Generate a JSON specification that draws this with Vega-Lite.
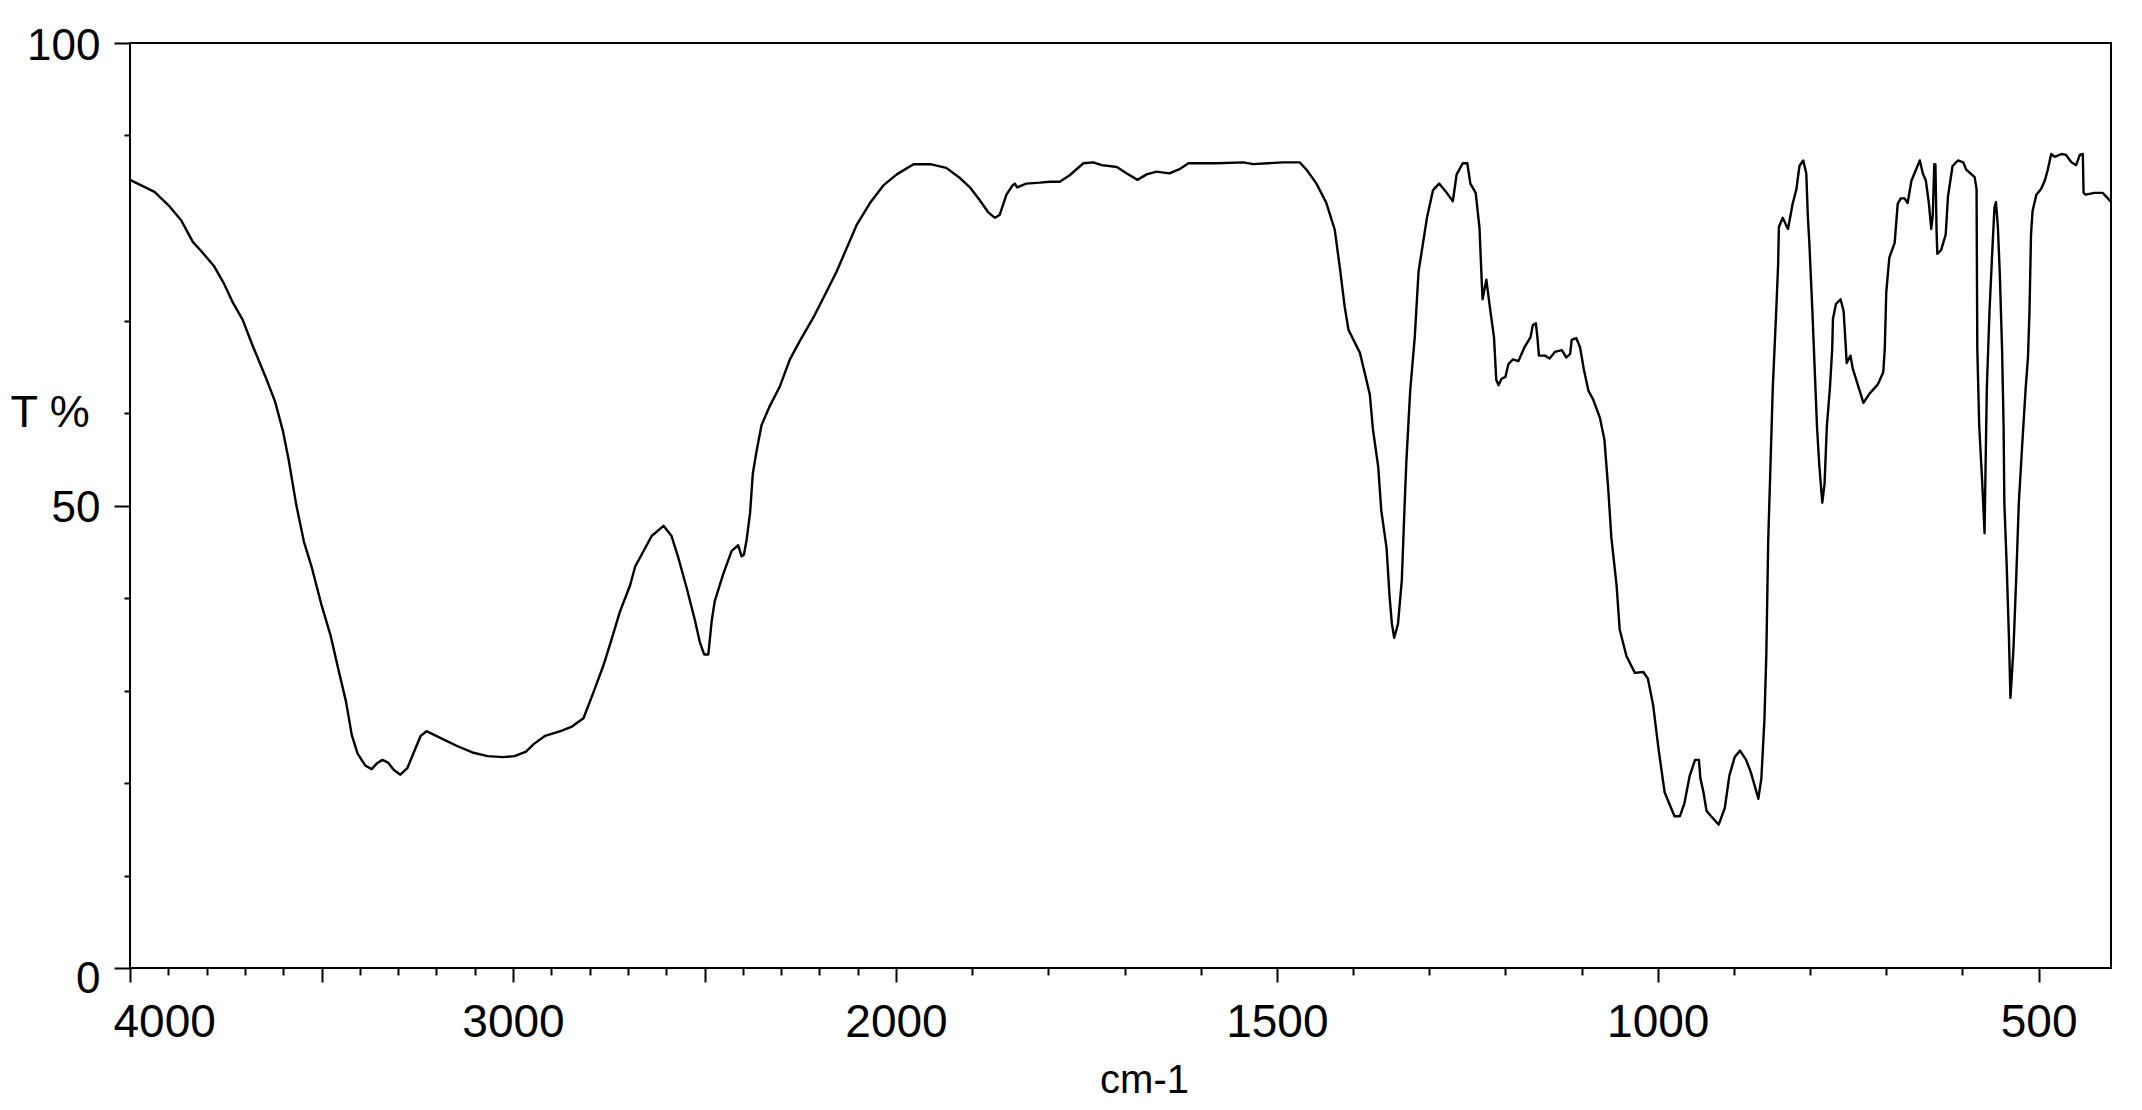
{
  "$schema": "https://vega.github.io/schema/vega-lite/v6.json",
  "width": 1981,
  "height": 925,
  "autosize": {"type": "none"},
  "padding": {"left": 130, "top": 43, "right": 31, "bottom": 142},
  "background": "white",
  "config": {
    "view": {"stroke": "black", "strokeWidth": 2},
    "axis": {"grid": false, "domain": false, "tickColor": "black", "tickWidth": 2, "labelColor": "black", "titleColor": "black", "labelFont": "Liberation Sans", "titleFont": "Liberation Sans", "titleFontWeight": "normal"}
  },
  "data": {"values": [
    {"wn": 4000, "T": 85.2}, {"wn": 3936, "T": 83.9}, {"wn": 3896, "T": 82.3}, {"wn": 3866, "T": 80.8}, {"wn": 3836, "T": 78.5}, {"wn": 3816, "T": 77.6}, {"wn": 3781, "T": 75.9}, {"wn": 3756, "T": 74.1}, {"wn": 3731, "T": 71.9}, {"wn": 3706, "T": 70.1}, {"wn": 3681, "T": 67.4}, {"wn": 3646, "T": 63.9}, {"wn": 3621, "T": 61.2}, {"wn": 3601, "T": 58.1}, {"wn": 3586, "T": 55.0}, {"wn": 3566, "T": 50.1}, {"wn": 3546, "T": 46.1}, {"wn": 3526, "T": 43.4}, {"wn": 3501, "T": 39.4}, {"wn": 3476, "T": 35.9}, {"wn": 3456, "T": 32.3}, {"wn": 3436, "T": 28.8}, {"wn": 3421, "T": 25.2}, {"wn": 3406, "T": 23.2}, {"wn": 3386, "T": 21.9}, {"wn": 3369, "T": 21.5}, {"wn": 3356, "T": 22.1}, {"wn": 3341, "T": 22.5}, {"wn": 3326, "T": 22.2}, {"wn": 3311, "T": 21.4}, {"wn": 3294, "T": 20.9}, {"wn": 3276, "T": 21.6}, {"wn": 3258, "T": 23.4}, {"wn": 3241, "T": 25.1}, {"wn": 3226, "T": 25.6}, {"wn": 3206, "T": 25.2}, {"wn": 3186, "T": 24.8}, {"wn": 3146, "T": 24.0}, {"wn": 3106, "T": 23.3}, {"wn": 3066, "T": 22.9}, {"wn": 3026, "T": 22.8}, {"wn": 2996, "T": 22.9}, {"wn": 2966, "T": 23.4}, {"wn": 2946, "T": 24.2}, {"wn": 2916, "T": 25.1}, {"wn": 2876, "T": 25.6}, {"wn": 2846, "T": 26.1}, {"wn": 2816, "T": 27.0}, {"wn": 2790, "T": 29.8}, {"wn": 2764, "T": 32.7}, {"wn": 2742, "T": 35.6}, {"wn": 2721, "T": 38.5}, {"wn": 2694, "T": 41.4}, {"wn": 2681, "T": 43.4}, {"wn": 2664, "T": 44.7}, {"wn": 2638, "T": 46.7}, {"wn": 2607, "T": 47.8}, {"wn": 2586, "T": 46.7}, {"wn": 2568, "T": 44.3}, {"wn": 2546, "T": 41.0}, {"wn": 2525, "T": 37.6}, {"wn": 2512, "T": 35.2}, {"wn": 2501, "T": 33.9}, {"wn": 2490, "T": 33.9}, {"wn": 2481, "T": 37.6}, {"wn": 2473, "T": 39.7}, {"wn": 2451, "T": 42.6}, {"wn": 2429, "T": 45.1}, {"wn": 2412, "T": 45.7}, {"wn": 2403, "T": 44.5}, {"wn": 2397, "T": 44.7}, {"wn": 2390, "T": 46.3}, {"wn": 2381, "T": 49.2}, {"wn": 2374, "T": 53.4}, {"wn": 2364, "T": 55.9}, {"wn": 2351, "T": 58.7}, {"wn": 2329, "T": 60.8}, {"wn": 2303, "T": 62.9}, {"wn": 2277, "T": 65.8}, {"wn": 2251, "T": 67.8}, {"wn": 2216, "T": 70.3}, {"wn": 2190, "T": 72.4}, {"wn": 2155, "T": 75.3}, {"wn": 2129, "T": 77.8}, {"wn": 2103, "T": 80.3}, {"wn": 2068, "T": 82.7}, {"wn": 2033, "T": 84.6}, {"wn": 1999, "T": 85.8}, {"wn": 1977, "T": 86.9}, {"wn": 1955, "T": 86.9}, {"wn": 1934, "T": 86.5}, {"wn": 1916, "T": 85.4}, {"wn": 1903, "T": 84.4}, {"wn": 1890, "T": 83.0}, {"wn": 1879, "T": 81.7}, {"wn": 1870, "T": 81.1}, {"wn": 1864, "T": 81.4}, {"wn": 1855, "T": 83.6}, {"wn": 1847, "T": 84.6}, {"wn": 1844, "T": 84.8}, {"wn": 1841, "T": 84.4}, {"wn": 1829, "T": 84.8}, {"wn": 1811, "T": 84.9}, {"wn": 1798, "T": 85.0}, {"wn": 1785, "T": 85.0}, {"wn": 1772, "T": 85.7}, {"wn": 1754, "T": 87.0}, {"wn": 1741, "T": 87.1}, {"wn": 1730, "T": 86.8}, {"wn": 1710, "T": 86.6}, {"wn": 1697, "T": 85.9}, {"wn": 1683, "T": 85.2}, {"wn": 1671, "T": 85.8}, {"wn": 1658, "T": 86.1}, {"wn": 1641, "T": 85.9}, {"wn": 1627, "T": 86.4}, {"wn": 1616, "T": 87.0}, {"wn": 1579, "T": 87.0}, {"wn": 1544, "T": 87.1}, {"wn": 1531, "T": 86.9}, {"wn": 1492, "T": 87.1}, {"wn": 1470, "T": 87.1}, {"wn": 1461, "T": 86.3}, {"wn": 1448, "T": 84.8}, {"wn": 1435, "T": 82.7}, {"wn": 1424, "T": 79.8}, {"wn": 1417, "T": 75.5}, {"wn": 1411, "T": 71.5}, {"wn": 1406, "T": 69.0}, {"wn": 1391, "T": 66.5}, {"wn": 1384, "T": 64.1}, {"wn": 1378, "T": 62.0}, {"wn": 1374, "T": 58.3}, {"wn": 1367, "T": 54.2}, {"wn": 1363, "T": 49.5}, {"wn": 1356, "T": 45.4}, {"wn": 1352, "T": 40.1}, {"wn": 1349, "T": 37.2}, {"wn": 1346, "T": 35.7}, {"wn": 1341, "T": 37.2}, {"wn": 1336, "T": 41.9}, {"wn": 1332, "T": 50.7}, {"wn": 1330, "T": 54.8}, {"wn": 1325, "T": 62.4}, {"wn": 1319, "T": 68.2}, {"wn": 1314, "T": 75.3}, {"wn": 1303, "T": 81.1}, {"wn": 1295, "T": 84.1}, {"wn": 1287, "T": 84.8}, {"wn": 1277, "T": 83.8}, {"wn": 1269, "T": 82.9}, {"wn": 1264, "T": 85.8}, {"wn": 1256, "T": 87.0}, {"wn": 1250, "T": 87.0}, {"wn": 1246, "T": 84.8}, {"wn": 1239, "T": 83.8}, {"wn": 1234, "T": 80.0}, {"wn": 1231, "T": 74.1}, {"wn": 1230, "T": 72.3}, {"wn": 1225, "T": 74.4}, {"wn": 1220, "T": 71.2}, {"wn": 1215, "T": 68.2}, {"wn": 1212, "T": 63.6}, {"wn": 1209, "T": 63.0}, {"wn": 1205, "T": 63.7}, {"wn": 1200, "T": 63.9}, {"wn": 1196, "T": 65.3}, {"wn": 1190, "T": 65.8}, {"wn": 1183, "T": 65.6}, {"wn": 1175, "T": 67.1}, {"wn": 1167, "T": 68.2}, {"wn": 1164, "T": 69.5}, {"wn": 1160, "T": 69.7}, {"wn": 1158, "T": 68.2}, {"wn": 1156, "T": 66.2}, {"wn": 1148, "T": 66.2}, {"wn": 1142, "T": 65.9}, {"wn": 1135, "T": 66.6}, {"wn": 1126, "T": 66.8}, {"wn": 1120, "T": 66.0}, {"wn": 1115, "T": 66.4}, {"wn": 1113, "T": 67.9}, {"wn": 1107, "T": 68.1}, {"wn": 1102, "T": 67.1}, {"wn": 1097, "T": 64.7}, {"wn": 1091, "T": 62.4}, {"wn": 1085, "T": 61.5}, {"wn": 1076, "T": 59.5}, {"wn": 1070, "T": 57.1}, {"wn": 1065, "T": 51.8}, {"wn": 1061, "T": 46.6}, {"wn": 1054, "T": 41.3}, {"wn": 1050, "T": 36.6}, {"wn": 1041, "T": 33.7}, {"wn": 1030, "T": 31.9}, {"wn": 1019, "T": 32.0}, {"wn": 1013, "T": 31.3}, {"wn": 1006, "T": 28.4}, {"wn": 999, "T": 23.7}, {"wn": 991, "T": 19.0}, {"wn": 984, "T": 17.6}, {"wn": 978, "T": 16.4}, {"wn": 971, "T": 16.4}, {"wn": 965, "T": 17.8}, {"wn": 958, "T": 20.8}, {"wn": 951, "T": 22.5}, {"wn": 946, "T": 22.5}, {"wn": 944, "T": 20.5}, {"wn": 940, "T": 19.0}, {"wn": 936, "T": 17.0}, {"wn": 930, "T": 16.4}, {"wn": 920, "T": 15.5}, {"wn": 912, "T": 17.3}, {"wn": 906, "T": 20.8}, {"wn": 899, "T": 22.8}, {"wn": 892, "T": 23.5}, {"wn": 884, "T": 22.5}, {"wn": 878, "T": 21.2}, {"wn": 872, "T": 19.5}, {"wn": 868, "T": 18.3}, {"wn": 864, "T": 20.5}, {"wn": 860, "T": 26.8}, {"wn": 857.5, "T": 33.8}, {"wn": 855, "T": 46.2}, {"wn": 852, "T": 54.4}, {"wn": 849, "T": 62.7}, {"wn": 844.5, "T": 71.0}, {"wn": 842, "T": 76.0}, {"wn": 841, "T": 80.1}, {"wn": 836, "T": 81.1}, {"wn": 829, "T": 79.9}, {"wn": 823, "T": 82.6}, {"wn": 818, "T": 84.2}, {"wn": 814, "T": 86.7}, {"wn": 809, "T": 87.3}, {"wn": 805, "T": 85.9}, {"wn": 803, "T": 81.3}, {"wn": 801, "T": 78.4}, {"wn": 797, "T": 71.0}, {"wn": 794, "T": 64.8}, {"wn": 791, "T": 58.6}, {"wn": 788, "T": 54.4}, {"wn": 784, "T": 50.3}, {"wn": 781, "T": 52.4}, {"wn": 778, "T": 58.6}, {"wn": 774, "T": 62.7}, {"wn": 771, "T": 66.9}, {"wn": 770, "T": 70.2}, {"wn": 766, "T": 71.8}, {"wn": 760, "T": 72.3}, {"wn": 756, "T": 71.0}, {"wn": 753, "T": 66.9}, {"wn": 752, "T": 65.4}, {"wn": 747, "T": 66.2}, {"wn": 744, "T": 64.8}, {"wn": 736, "T": 62.7}, {"wn": 730, "T": 61.1}, {"wn": 722, "T": 62.1}, {"wn": 711, "T": 63.1}, {"wn": 704, "T": 64.4}, {"wn": 702, "T": 66.9}, {"wn": 700, "T": 73.1}, {"wn": 696, "T": 76.8}, {"wn": 689, "T": 78.4}, {"wn": 685, "T": 82.6}, {"wn": 681, "T": 83.2}, {"wn": 676, "T": 83.2}, {"wn": 672, "T": 82.7}, {"wn": 667, "T": 85.1}, {"wn": 662, "T": 86.1}, {"wn": 656, "T": 87.3}, {"wn": 652, "T": 85.9}, {"wn": 648, "T": 85.1}, {"wn": 644, "T": 82.6}, {"wn": 641, "T": 79.9}, {"wn": 639, "T": 81.3}, {"wn": 637, "T": 86.9}, {"wn": 635.5, "T": 86.9}, {"wn": 634, "T": 79.7}, {"wn": 633, "T": 77.2}, {"wn": 628, "T": 77.6}, {"wn": 622, "T": 79.3}, {"wn": 619, "T": 83.4}, {"wn": 613, "T": 86.7}, {"wn": 606, "T": 87.3}, {"wn": 599, "T": 87.1}, {"wn": 595, "T": 86.3}, {"wn": 584, "T": 85.5}, {"wn": 581.5, "T": 84.2}, {"wn": 580.5, "T": 66.9}, {"wn": 578, "T": 58.6}, {"wn": 574, "T": 52.4}, {"wn": 571, "T": 47.0}, {"wn": 570, "T": 52.4}, {"wn": 568, "T": 62.7}, {"wn": 564.5, "T": 71.0}, {"wn": 561, "T": 77.2}, {"wn": 558, "T": 82.2}, {"wn": 556, "T": 82.8}, {"wn": 553.5, "T": 80.1}, {"wn": 551, "T": 75.1}, {"wn": 548, "T": 66.9}, {"wn": 546, "T": 58.6}, {"wn": 545, "T": 50.3}, {"wn": 542, "T": 43.7}, {"wn": 539, "T": 35.8}, {"wn": 537, "T": 29.2}, {"wn": 533, "T": 34.6}, {"wn": 529.5, "T": 42.0}, {"wn": 526, "T": 50.3}, {"wn": 521.6, "T": 56.5}, {"wn": 517, "T": 62.7}, {"wn": 514, "T": 66.0}, {"wn": 512, "T": 71.0}, {"wn": 510, "T": 79.3}, {"wn": 508, "T": 81.8}, {"wn": 503, "T": 83.6}, {"wn": 497, "T": 84.2}, {"wn": 492, "T": 85.1}, {"wn": 488, "T": 86.3}, {"wn": 483.5, "T": 88.0}, {"wn": 479, "T": 87.7}, {"wn": 470, "T": 88.0}, {"wn": 464, "T": 87.9}, {"wn": 457, "T": 87.1}, {"wn": 450.7, "T": 86.8}, {"wn": 446, "T": 87.9}, {"wn": 442, "T": 88.0}, {"wn": 441, "T": 83.8}, {"wn": 438, "T": 83.6}, {"wn": 427, "T": 83.8}, {"wn": 416, "T": 83.8}, {"wn": 409, "T": 83.2}, {"wn": 405, "T": 82.8}
  ]},
  "layer": [
    {
      "mark": {"type": "line", "color": "black", "strokeWidth": 2.4, "strokeJoin": "round"},
      "encoding": {
        "x": {
          "field": "wn", "type": "quantitative",
          "scale": {"domain": [4000, 2000, 405], "range": [0, 766, 1981], "zero": false, "nice": false},
          "axis": {
            "orient": "bottom",
            "values": [4000, 3500, 3000, 2500, 2000, 1500, 1000, 500],
            "format": "d",
            "labelExpr": "datum.value == 3500 || datum.value == 2500 ? '' : datum.label",
            "tickSize": 14,
            "labelFontSize": 46,
            "labelPadding": 18,
            "labelFlush": true,
            "labelFlushOffset": 17,
            "labelOverlap": false,
            "title": "cm-1",
            "titleFontSize": 40,
            "titleX": 1014,
            "titleY": 124,
            "titleAlign": "center",
            "titleBaseline": "alphabetic"
          }
        },
        "y": {
          "field": "T", "type": "quantitative",
          "scale": {"domain": [0, 100], "nice": false},
          "axis": {
            "orient": "left",
            "values": [0, 50, 100],
            "tickSize": 16,
            "labelFontSize": 44,
            "labelPadding": 14,
            "labelOffset": {"condition": {"test": "datum.value == 0", "value": 11}, "value": 3},
            "title": "T %",
            "titleFontSize": 45,
            "titleAngle": 0,
            "titleAlign": "left",
            "titleBaseline": "alphabetic",
            "titleX": -120,
            "titleY": 383
          }
        }
      }
    },
    {
      "mark": {"type": "line", "opacity": 0},
      "encoding": {
        "x": {
          "field": "wn", "type": "quantitative",
          "axis": {
            "orient": "bottom",
            "values": [3900, 3800, 3700, 3600, 3400, 3300, 3200, 3100, 2900, 2800, 2700, 2600, 2400, 2300, 2200, 2100, 1900, 1800, 1700, 1600, 1400, 1300, 1200, 1100, 900, 800, 700, 600],
            "tickSize": 7,
            "labels": false,
            "title": null
          }
        },
        "y": {
          "field": "T", "type": "quantitative",
          "axis": {
            "orient": "left",
            "values": [10, 20, 30, 40, 60, 70, 90],
            "tickSize": 6,
            "labels": false,
            "title": null
          }
        }
      }
    }
  ],
  "resolve": {"axis": {"x": "independent", "y": "independent"}}
}
